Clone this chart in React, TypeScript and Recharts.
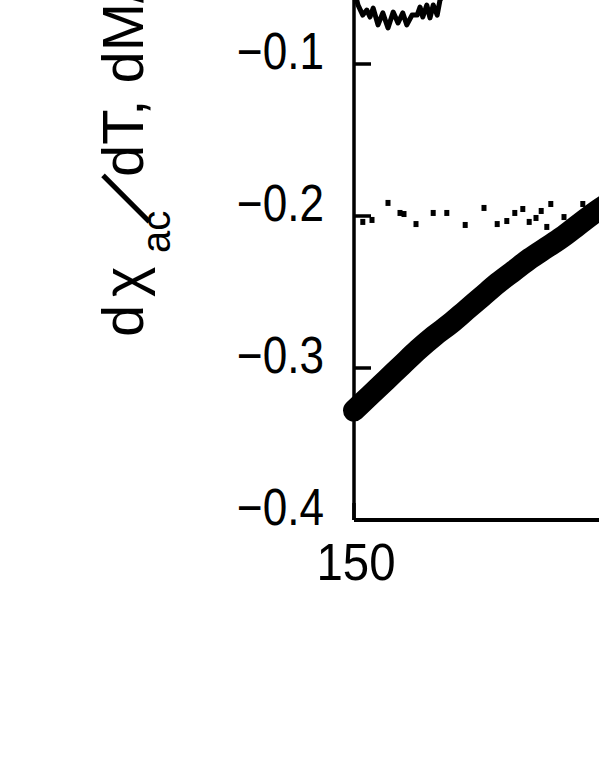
import React from 'react';
import { ComposedChart, Line, Scatter, XAxis, YAxis } from 'recharts';

// Thick series (large dense markers)
const thickT = [150, 152, 154, 156, 158, 160, 162, 164, 166, 168, 170, 172, 174, 176, 178, 180, 182, 184];
const thickV = [-0.328, -0.318, -0.308, -0.298, -0.288, -0.279, -0.271, -0.262, -0.253, -0.244, -0.236, -0.228, -0.221, -0.214, -0.206, -0.198, -0.191, -0.184];

// Noisy thin line near the top
const wiggleT = [150.2, 150.5, 151.1, 151.6, 152.0, 152.4, 153.0, 153.6, 154.25, 154.9, 155.5, 156.1, 156.6, 157.25, 157.9, 158.25, 158.6, 159.1, 159.5, 159.9, 160.4, 160.75, 161.5, 162.5];
const wiggleV = [-0.055, -0.0612, -0.0678, -0.0645, -0.0691, -0.0632, -0.0743, -0.0664, -0.0763, -0.0658, -0.073, -0.0664, -0.0743, -0.0678, -0.0678, -0.0625, -0.0691, -0.0612, -0.0697, -0.0612, -0.0678, -0.0579, -0.052, -0.045];

// Sparse small-square points near -0.2
const dotT = [151.1, 152.25, 154.25, 155.75, 156.25, 157.75, 159.9, 161.6, 163.9, 166.25, 167.9, 169.1, 170.1, 171.1, 171.9, 172.75, 173.4, 174.1, 174.6, 176.25, 178.6];
const dotV = [-0.2039, -0.2026, -0.1914, -0.198, -0.1987, -0.2053, -0.198, -0.198, -0.2059, -0.1947, -0.2053, -0.2033, -0.198, -0.1954, -0.2039, -0.2013, -0.1967, -0.2072, -0.1921, -0.2007, -0.1921];

const yTicks = [-0.4, -0.3, -0.2, -0.1];
const xTicks = [150];

const thickData = thickT.map((t, i) => ({ t, v: thickV[i] }));
const wiggleData = wiggleT.map((t, i) => ({ t, v: wiggleV[i] }));
const dotData = dotT.map((t, i) => ({ t, v: dotV[i] }));

const FONT = '"Liberation Sans", Arial, sans-serif';

const fmtY = (v: number) => (v === 0 ? '0' : (v < 0 ? '\u2212' : '') + Math.abs(v).toFixed(1));

const YTick = (props: any) => {
  const { x, y, payload } = props;
  return (
    <g>
      <line x1={x} x2={x + 17} y1={y} y2={y} stroke="#000" strokeWidth={3.5} />
      <text
        x={x - 30}
        y={y + 5}
        textAnchor="end"
        fontSize={51}
        fontFamily={FONT}
        fill="#000"
        textLength={87}
        lengthAdjust="spacingAndGlyphs"
      >
        {fmtY(payload.value)}
      </text>
    </g>
  );
};

const XTick = (props: any) => {
  const { x, y, payload } = props;
  return (
    <g>
      <line x1={x} x2={x} y1={y} y2={y - 17} stroke="#000" strokeWidth={3.5} />
      <text
        x={x + 2}
        y={y + 60}
        textAnchor="middle"
        fontSize={51}
        fontFamily={FONT}
        fill="#000"
        textLength={79}
        lengthAdjust="spacingAndGlyphs"
      >
        {String(payload.value)}
      </text>
    </g>
  );
};

const SquareDot = (props: any) => {
  const { cx, cy } = props;
  return <rect x={cx - 2.5} y={cy - 3} width={5} height={6} fill="#000" />;
};

const YLabel = () => (
  <text
    x={0}
    y={0}
    transform="translate(143, 535) rotate(-90)"
    fontSize={58}
    fontFamily={FONT}
    fill="#000"
    textAnchor="start"
  >
    <tspan x={-2} y={0}>d</tspan>
    <tspan x={38} y={0}>χ</tspan>
    <tspan x={82} y={27} fontSize={40}>ac</tspan>
    <tspan
      x={112}
      y={2}
      fontSize={49}
      fontFamily={'"Noto Sans CJK JP", sans-serif'}
      stroke="#000"
      strokeWidth={3}
    >
      ／
    </tspan>
    <tspan x={158} y={0}>dT, dM/dT</tspan>
  </text>
);

export default function App() {
  return (
    <div
      style={{
        position: 'absolute',
        left: 0,
        top: 0,
        width: 599,
        height: 776,
        overflow: 'hidden',
        background: '#fff',
      }}
    >
      <div style={{ position: 'absolute', left: 0, top: -200 }}>
        <ComposedChart
          width={1654}
          height={900}
          margin={{ top: 112, right: 100, bottom: 100, left: 254 }}
        >
          <XAxis
            type="number"
            dataKey="t"
            domain={[150, 300]}
            ticks={xTicks}
            height={80}
            tickSize={0}
            tickMargin={0}
            tickLine={false}
            axisLine={{ stroke: '#000', strokeWidth: 4 }}
            tick={<XTick />}
            interval={0}
          />
          <YAxis
            type="number"
            dataKey="v"
            domain={[-0.4, 0]}
            ticks={yTicks}
            width={100}
            tickSize={0}
            tickMargin={0}
            tickLine={false}
            axisLine={{ stroke: '#000', strokeWidth: 3.5 }}
            tick={<YTick />}
            interval={0}
            label={{ content: () => <YLabel /> }}
          />
          <Line
            data={wiggleData}
            dataKey="v"
            type="linear"
            stroke="#000"
            strokeWidth={5}
            strokeLinejoin="round"
            strokeLinecap="round"
            dot={false}
            isAnimationActive={false}
          />
          <Scatter
            data={dotData}
            dataKey="v"
            fill="#000"
            shape={<SquareDot />}
            isAnimationActive={false}
          />
          <Line
            data={thickData}
            dataKey="v"
            type="monotone"
            stroke="#000"
            strokeWidth={22}
            strokeLinecap="round"
            strokeLinejoin="round"
            dot={false}
            isAnimationActive={false}
          />
        </ComposedChart>
      </div>
    </div>
  );
}
